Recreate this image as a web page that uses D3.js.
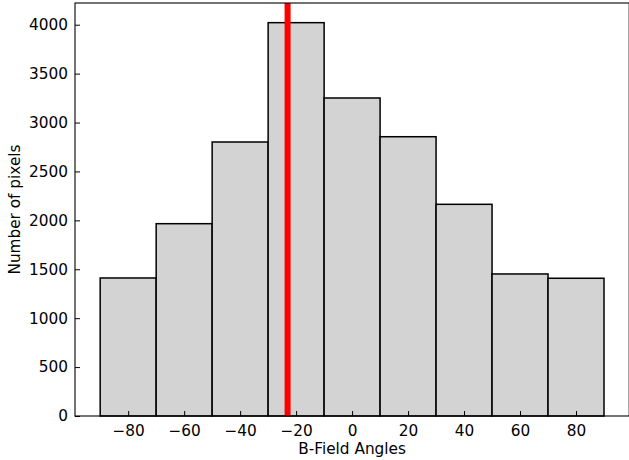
<!DOCTYPE html>
<html><head><meta charset="utf-8">
<script src="https://cdn.jsdelivr.net/npm/d3@7"></script>
<style>body{margin:0;background:#fff;} text{font-family:"DejaVu Sans",sans-serif;}</style>
</head><body>
<svg id="c" width="629" height="460"></svg>
<script>
const binEdges = [-90,-70,-50,-30,-10,10,30,50,70,90];
const counts = [1411,1966,2801,4021,3251,2855,2164,1452,1408];
const xTicks = [-80,-60,-40,-20,0,20,40,60,80];
const yTicks = [0,500,1000,1500,2000,2500,3000,3500,4000];
const meanAngle = -23.05;
const xLabel = "B-Field Angles";
const yLabel = "Number of pixels";

const L=75, R=629.2, T=3, B=416;
const FS=15.3;
const svg = d3.select("#c");
const x = d3.scaleLinear().domain([-99,99]).range([L,R]);
const y = d3.scaleLinear().domain([0,4222]).range([B,T]);

const bins = counts.map((c,i)=>({x0:binEdges[i],x1:binEdges[i+1],c}));
svg.append("g").selectAll("rect").data(bins).join("rect")
  .attr("x",d=>x(d.x0)).attr("width",d=>x(d.x1)-x(d.x0))
  .attr("y",d=>y(d.c)).attr("height",d=>y(0)-y(d.c))
  .attr("fill","#d3d3d3").attr("stroke","#000").attr("stroke-width",1.5);

svg.append("line").attr("x1",x(meanAngle)).attr("x2",x(meanAngle))
  .attr("y1",y(0)).attr("y2",T).attr("stroke","#ff0000").attr("stroke-width",6);

const fmt = d=> d<0 ? "\u2212"+Math.abs(d) : String(d);
const xa = svg.append("g").attr("transform",`translate(0,${B})`)
  .call(d3.axisBottom(x).tickValues(xTicks).tickSizeInner(-5).tickSizeOuter(0).tickPadding(9).tickFormat(fmt));
const ya = svg.append("g").attr("transform",`translate(${L},0)`)
  .call(d3.axisLeft(y).tickValues(yTicks).tickSizeInner(-5).tickSizeOuter(0).tickPadding(7).tickFormat(d=>String(d)));
[xa,ya].forEach(a=>{a.select(".domain").remove();a.selectAll("text").attr("font-size",FS).attr("fill","#000").style("font-family","DejaVu Sans");a.selectAll("line").attr("stroke","#000").attr("stroke-width",1);});

// spines
svg.append("rect").attr("x",L).attr("y",T).attr("width",R-L).attr("height",B-T)
  .attr("fill","none").attr("stroke","#000").attr("stroke-width",1.1);

svg.append("text").attr("x",(L+R)/2).attr("y",454).attr("text-anchor","middle")
  .attr("font-size",FS).text(xLabel);
svg.append("text").attr("transform",`translate(20,${(T+B)/2}) rotate(-90)`).attr("text-anchor","middle")
  .attr("font-size",FS).text(yLabel);
</script>
</body></html>
